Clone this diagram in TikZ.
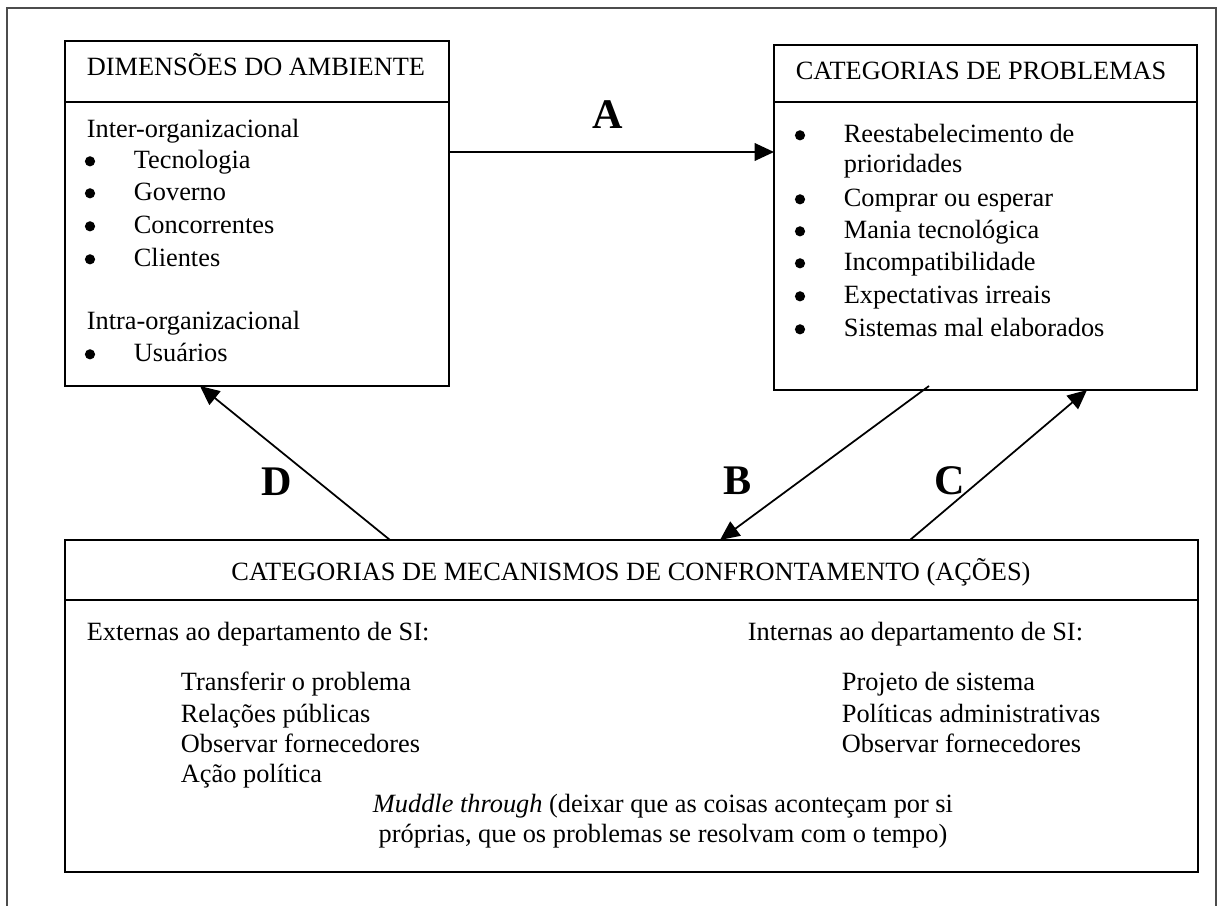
\documentclass[tikz,border=0pt]{standalone}
\usepackage{fontspec}
\setmainfont{Liberation Serif}
\usetikzlibrary{arrows.meta}

\begin{document}
\begin{tikzpicture}[x=0.02cm, y=-0.02cm, line width=1pt,
  txt/.style={anchor=base west, inner sep=0pt, font=\fontsize{15}{18}\selectfont},
  bul/.style={circle, fill, inner sep=0pt, minimum size=5.8pt, yshift=3.8pt},
  lbl/.style={anchor=base, inner sep=0pt, font=\fontsize{24}{28}\selectfont\bfseries},
  flow/.style={-{Triangle[length=11pt,width=10pt]}}]
	\useasboundingbox (0,0) rectangle (1218,906);
	% define coordinates
	\coordinate (dimNW) at (65,41);
	\coordinate (dimSE) at (449,386);
	\coordinate (probNW) at (774,45);
	\coordinate (probSE) at (1197,390);
	\coordinate (mecNW) at (65,540);
	\coordinate (mecSE) at (1198,872);
	\coordinate (aS) at (449,152);
	\coordinate (aE) at (774,152);
	\coordinate (bS) at (929,386);
	\coordinate (bE) at (720,540);
	\coordinate (cS) at (910,540);
	\coordinate (cE) at (1087,390);
	\coordinate (dS) at (390,540);
	\coordinate (dE) at (200,386);
	% outer frame
	\draw[line width=0.8pt, black!70] (7,906) -- (7,8) -- (1216,8) -- (1216,906);
	% boxes
	\draw (dimNW) rectangle (dimSE);
	\draw (dimNW |- 0,102) -- (dimSE |- 0,102);
	\draw (probNW) rectangle (probSE);
	\draw (probNW |- 0,102) -- (probSE |- 0,102);
	\draw (mecNW) rectangle (mecSE);
	\draw (mecNW |- 0,600) -- (mecSE |- 0,600);
	% environment
	\node[txt] (dimT) at (86,75) {DIMENSÕES DO AMBIENTE};
	\node[txt] (inter) at (86,137) {Inter-organizacional};
	\foreach \y/\t [count=\i] in {168/Tecnologia, 200/Governo, 233/Concorrentes, 266/Clientes} {
		\node[bul] (dimB\i) at (90,\y) {};
		\node[txt] (dimI\i) at (133,\y) {\t};
	}
	\node[txt] (intra) at (86,329) {Intra-organizacional};
	\node[bul] (dimB5) at (90,361) {};
	\node[txt] (dimI5) at (133,361) {Usuários};
	% problems
	\node[txt] (probT) at (795,79) {CATEGORIAS DE PROBLEMAS};
	\node[bul] (probB1) at (800,142) {};
	\node[txt] (probI1) at (843,142) {Reestabelecimento de};
	\node[txt] (probI1b) at (843,172) {prioridades};
	\foreach \y/\t [count=\i from 2] in {206/Comprar ou esperar, 238/Mania tecnológica, 270/Incompatibilidade, 303/Expectativas irreais, 336/Sistemas mal elaborados} {
		\node[bul] (probB\i) at (800,\y) {};
		\node[txt] (probI\i) at (843,\y) {\t};
	}
	% actions
	\node[anchor=base, inner sep=0pt, font=\fontsize{15}{18}\selectfont] (mecT) at (631,580) {CATEGORIAS DE MECANISMOS DE CONFRONTAMENTO (AÇÕES)};
	\node[txt] (ext) at (86,640) {Externas ao departamento de SI:};
	\node[txt] (int) at (747,640) {Internas ao departamento de SI:};
	\foreach \y/\t [count=\i] in {690/Transferir o problema, 722/Relações públicas, 752/Observar fornecedores, 782/Ação política} {
		\node[txt] (ext\i) at (180,\y) {\t};
	}
	\foreach \y/\t [count=\i] in {690/Projeto de sistema, 722/Políticas administrativas, 752/Observar fornecedores} {
		\node[txt] (int\i) at (841,\y) {\t};
	}
	\node[anchor=base, inner sep=0pt, align=center, font=\fontsize{15}{17}\selectfont] (muddle) at (663,842)
		{\textit{Muddle through} (deixar que as coisas aconteçam por si\\ próprias, que os problemas se resolvam com o tempo)};
	% arrows
	\draw[flow] (aS) -- (aE);
	\draw[flow] (bS) -- (bE);
	\draw[flow] (cS) -- (cE);
	\draw[flow] (dS) -- (dE);
	\node[lbl] (labA) at (608,128) {A};
	\node[lbl] (labB) at (738,494) {B};
	\node[lbl] (labC) at (950,494) {C};
	\node[lbl] (labD) at (277,495) {D};
\end{tikzpicture}
\end{document}
